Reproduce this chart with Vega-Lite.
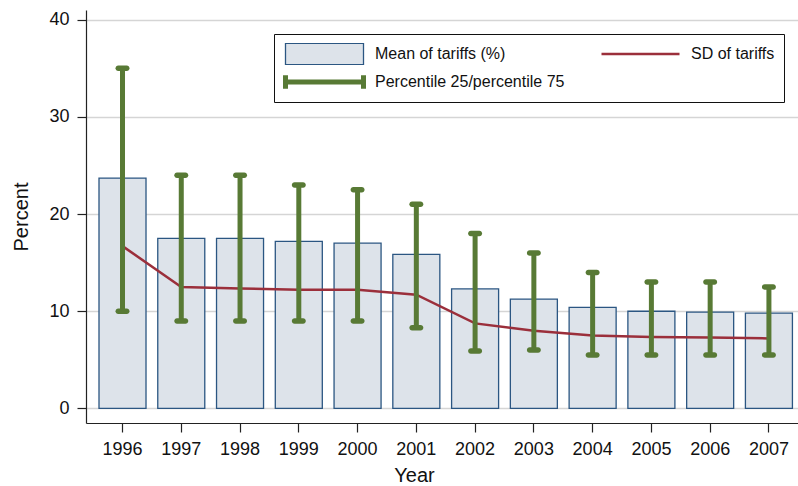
{
  "$schema": "https://vega.github.io/schema/vega-lite/v6.json",
  "width": 712,
  "height": 413,
  "autosize": "none",
  "padding": {"left": 86, "top": 10, "right": 0, "bottom": 63},
  "background": "white",
  "config": {
    "font": "Liberation Sans",
    "view": {"stroke": null},
    "axis": {
      "labelFont": "Liberation Sans",
      "titleFont": "Liberation Sans",
      "labelFontSize": 18,
      "titleFontSize": 20,
      "titleFontWeight": "normal",
      "labelColor": "#111",
      "titleColor": "#111",
      "domainColor": "#222",
      "tickColor": "#222",
      "tickSize": 9,
      "domainWidth": 1.2,
      "tickWidth": 1.2
    }
  },
  "data": {
    "values": [
      {"year": "1996", "mean": 23.7, "sd": 16.7, "p25": 10.0, "p75": 35.0},
      {"year": "1997", "mean": 17.5, "sd": 12.5, "p25": 9.0, "p75": 24.0},
      {"year": "1998", "mean": 17.5, "sd": 12.35, "p25": 9.0, "p75": 24.0},
      {"year": "1999", "mean": 17.2, "sd": 12.2, "p25": 9.0, "p75": 23.0},
      {"year": "2000", "mean": 17.0, "sd": 12.2, "p25": 9.0, "p75": 22.5},
      {"year": "2001", "mean": 15.85, "sd": 11.7, "p25": 8.3, "p75": 21.0},
      {"year": "2002", "mean": 12.3, "sd": 8.75, "p25": 5.9, "p75": 18.0},
      {"year": "2003", "mean": 11.25, "sd": 8.0, "p25": 6.0, "p75": 16.0},
      {"year": "2004", "mean": 10.4, "sd": 7.5, "p25": 5.5, "p75": 14.0},
      {"year": "2005", "mean": 10.0, "sd": 7.35, "p25": 5.5, "p75": 13.0},
      {"year": "2006", "mean": 9.9, "sd": 7.3, "p25": 5.5, "p75": 13.0},
      {"year": "2007", "mean": 9.8, "sd": 7.2, "p25": 5.5, "p75": 12.5}
    ]
  },
  "encoding": {
    "x": {
      "field": "year",
      "type": "ordinal",
      "title": "Year",
      "scale": {"paddingInner": 0.2, "paddingOuter": 0.158, "align": 0.7},
      "axis": {"labelAngle": 0, "labelPadding": 8, "titlePadding": 7, "titleX": 328, "grid": false}
    }
  },
  "layer": [
    {
      "mark": {"type": "bar", "fill": "#dde3ea", "stroke": "#2b5682", "strokeWidth": 1.3},
      "encoding": {
        "y": {
          "field": "mean",
          "type": "quantitative",
          "title": "Percent",
          "scale": {"domain": [-1.5, 41], "nice": false, "zero": false},
          "axis": {
            "values": [0, 10, 20, 30, 40],
            "grid": true,
            "gridColor": "#d5d5d5",
            "gridWidth": 1.5,
            "labelPadding": 8,
            "titlePadding": 17
          }
        },
        "y2": {"datum": 0}
      }
    },
    {
      "mark": {"type": "line", "stroke": "#9b2f3b"},
      "encoding": {
        "y": {"field": "sd", "type": "quantitative"},
        "strokeWidth": {
          "datum": "SD of tariffs",
          "type": "nominal",
          "scale": {
            "type": "ordinal",
            "domain": ["Mean of tariffs (%)", "SD of tariffs", "Percentile 25/percentile 75"],
            "range": [1.3, 2.5, 5]
          },
          "legend": {
            "title": null, "orient": "none", "legendX": 188, "legendY": 24,
            "direction": "horizontal", "columns": 2,
            "strokeColor": "#111", "fillColor": "white", "padding": 9,
            "labelFont": "Liberation Sans", "labelFontSize": 16, "labelColor": "#111", "labelLimit": 400,
            "labelOffset": 9, "columnPadding": 34, "rowPadding": 6, "clipHeight": 22,
            "symbolSize": 6084,
            "symbolOpacity": 1,
            "symbolType": {"expr": "datum.value === 'Mean of tariffs (%)' ? 'M-1,-0.27H1V0.27H-1Z' : datum.value === 'SD of tariffs' ? 'M-1,0H1' : 'M-1,0H1M-1,-0.17V0.17M1,-0.17V0.17'"},
            "symbolFillColor": {"expr": "datum.value === 'Mean of tariffs (%)' ? '#dde3ea' : 'transparent'"},
            "symbolStrokeColor": {"expr": "datum.value === 'Mean of tariffs (%)' ? '#2b5682' : datum.value === 'SD of tariffs' ? '#9b2f3b' : '#587a35'"}
          }
        }
      }
    },
    {
      "mark": {"type": "rule", "stroke": "#587a35", "strokeWidth": 5},
      "encoding": {
        "y": {"field": "p25", "type": "quantitative"},
        "y2": {"field": "p75"}
      }
    },
    {
      "mark": {"type": "tick", "color": "#587a35", "size": 14, "thickness": 5.5, "cornerRadius": 2.75, "opacity": 1},
      "encoding": {
        "y": {"field": "p25", "type": "quantitative"}
      }
    },
    {
      "mark": {"type": "tick", "color": "#587a35", "size": 14, "thickness": 5.5, "cornerRadius": 2.75, "opacity": 1},
      "encoding": {
        "y": {"field": "p75", "type": "quantitative"}
      }
    }
  ]
}
